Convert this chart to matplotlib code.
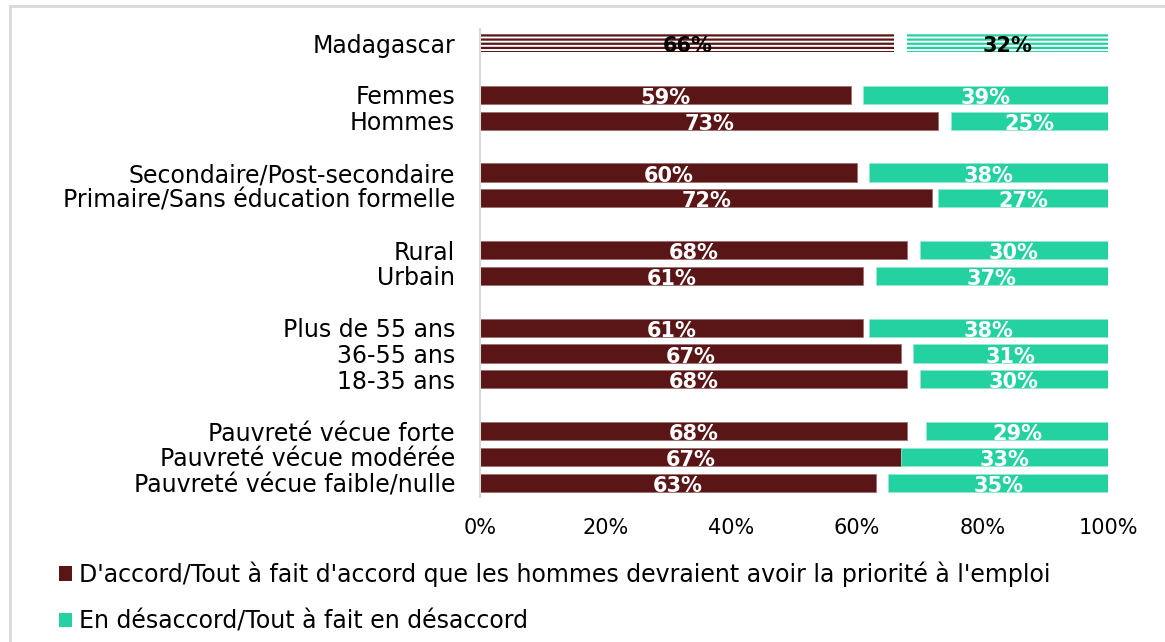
import matplotlib.pyplot as plt
from matplotlib.patches import Patch
from matplotlib.lines import Line2D

plt.rcParams['font.family'] = ['DejaVu Sans']
plt.rcParams['hatch.linewidth'] = 1.6

# rows from top to bottom (gaps between the groups)
labels = ["Madagascar",
          "Femmes", "Hommes",
          "Secondaire/Post-secondaire", "Primaire/Sans éducation formelle",
          "Rural", "Urbain",
          "Plus de 55 ans", "36-55 ans", "18-35 ans",
          "Pauvreté vécue forte", "Pauvreté vécue modérée", "Pauvreté vécue faible/nulle"]
positions = [0, 2, 3, 5, 6, 8, 9, 11, 12, 13, 15, 16, 17]
agree = [66, 59, 73, 60, 72, 68, 61, 61, 67, 68, 68, 67, 63]
disagree = [32, 39, 25, 38, 27, 30, 37, 38, 31, 30, 29, 33, 35]

red = "#5a1517"
teal = "#24d1a1"

fig = plt.figure(figsize=(11.65, 6.42), dpi=100)
ax = fig.add_axes([480 / 1165, 1 - 497 / 642, 628 / 1165, 468 / 642])

for i, (p, a, d) in enumerate(zip(positions, agree, disagree)):
    left_d = 100 - d
    if i == 0:
        # country total drawn hatched
        ax.barh(p, a, height=0.7, color="white", edgecolor=red, hatch="----", linewidth=0)
        ax.barh(p, d, left=left_d, height=0.7, color="white", edgecolor=teal, hatch="----", linewidth=0)
        tc = "black"
    else:
        ax.barh(p, a, height=0.7, color=red, edgecolor="#9a6a6a", linewidth=0.5)
        ax.barh(p, d, left=left_d, height=0.7, color=teal, edgecolor="#9ae8cf", linewidth=0.5)
        tc = "white"
    ax.text(a / 2, p + 0.12, f"{a}%", ha="center", va="center", color=tc,
            fontsize=15, fontweight="bold")
    ax.text(left_d + d / 2, p + 0.12, f"{d}%", ha="center", va="center", color=tc,
            fontsize=15, fontweight="bold")

ax.set_xlim(0, 100)
ax.set_ylim(17.55, -0.55)
ax.set_yticks(positions)
ax.set_yticklabels(labels, fontsize=17)
ax.set_xticks([0, 20, 40, 60, 80, 100])
ax.set_xticklabels(["0%", "20%", "40%", "60%", "80%", "100%"], fontsize=15)
ax.tick_params(axis="y", length=0, pad=18)
ax.tick_params(axis="x", length=0, pad=15)
for s in ["top", "right", "bottom"]:
    ax.spines[s].set_visible(False)
ax.spines["left"].set_color("#d9d9d9")
ax.spines["left"].set_linewidth(1.5)

handles = [Patch(facecolor=red, label="D'accord/Tout à fait d'accord que les hommes devraient avoir la priorité à l'emploi"),
           Patch(facecolor=teal, label="En désaccord/Tout à fait en désaccord")]
fig.legend(handles=handles, loc="upper left", bbox_to_anchor=(38 / 1165, 1 - 540 / 642),
           frameon=False, fontsize=17, handlelength=0.55, handleheight=0.55,
           handletextpad=0.3, labelspacing=0.95)

# chart border (top and left visible)
fig.add_artist(Line2D([10 / 1165, 10 / 1165], [0, 1 - 6 / 642], color="#d9d9d9", lw=2,
                      transform=fig.transFigure))
fig.add_artist(Line2D([10 / 1165, 1], [1 - 6 / 642, 1 - 6 / 642], color="#d9d9d9", lw=2,
                      transform=fig.transFigure))

fig.savefig("out.png", dpi=100)
